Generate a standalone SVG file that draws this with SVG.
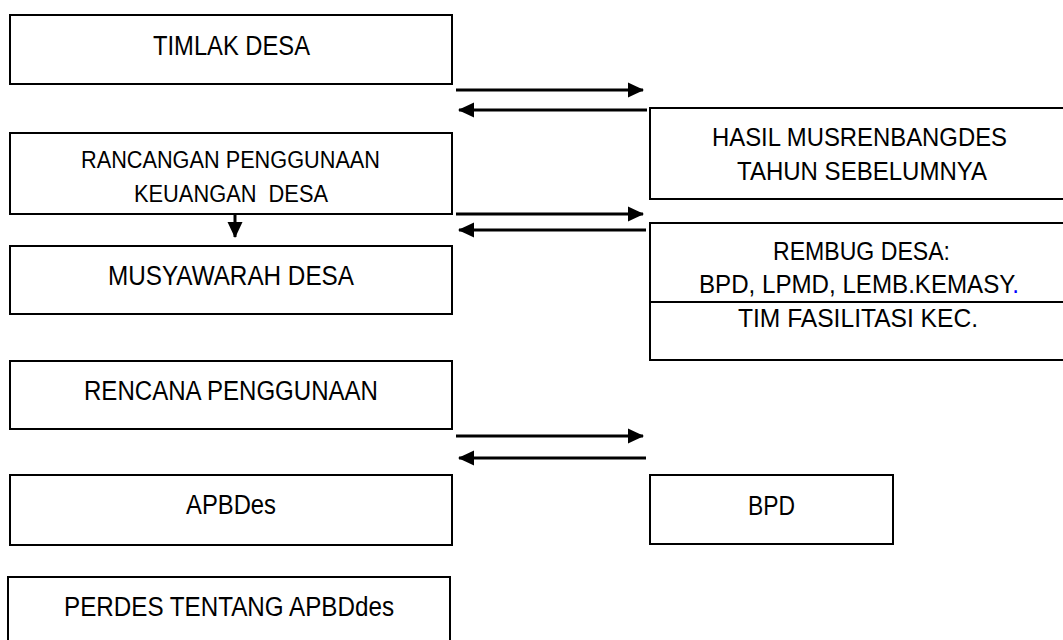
<svg xmlns="http://www.w3.org/2000/svg" width="1063" height="640" viewBox="0 0 1063 640">
<style>
.box{fill:#fff;stroke:#000;stroke-width:2}
.t{font-family:"Liberation Sans",Arial,sans-serif;fill:#000;text-anchor:middle;font-size:27px}
.m{font-size:26px}
.s{font-size:23px}
.c{fill:none;stroke:#000;stroke-width:3}
</style>
<defs>
<marker id="ah" viewBox="0 0 16 16" refX="15" refY="8" markerWidth="16" markerHeight="16" markerUnits="userSpaceOnUse" orient="auto">
<path d="M0,0.5 L16,8 L0,15.5 Z" fill="#000"/>
</marker>
</defs>
<rect width="1063" height="640" fill="#fff"/>
<g id="timlak">
<rect class="box" x="10" y="15" width="442" height="69"/>
<text class="t" x="231.5" y="55" textLength="157" lengthAdjust="spacingAndGlyphs">TIMLAK DESA</text>
</g>
<g id="rancangan">
<rect class="box" x="10" y="133" width="442" height="81"/>
<text class="t s" x="230.5" y="168" textLength="299" lengthAdjust="spacingAndGlyphs">RANCANGAN PENGGUNAAN</text>
<text class="t s" x="231" y="202" textLength="194" lengthAdjust="spacingAndGlyphs" xml:space="preserve">KEUANGAN  DESA</text>
</g>
<g id="musyawarah">
<rect class="box" x="10" y="246" width="442" height="68"/>
<text class="t" x="231" y="285" textLength="246" lengthAdjust="spacingAndGlyphs">MUSYAWARAH DESA</text>
</g>
<g id="rencana">
<rect class="box" x="10" y="361" width="442" height="68"/>
<text class="t" x="231" y="400" textLength="294" lengthAdjust="spacingAndGlyphs">RENCANA PENGGUNAAN</text>
</g>
<g id="apbdes">
<rect class="box" x="10" y="475" width="442" height="70"/>
<text class="t" x="231" y="514" textLength="90" lengthAdjust="spacingAndGlyphs">APBDes</text>
</g>
<g id="perdes">
<rect class="box" x="8" y="577" width="442" height="80"/>
<text class="t" x="229" y="616" textLength="330" lengthAdjust="spacingAndGlyphs">PERDES TENTANG APBDdes</text>
</g>
<g id="hasil">
<rect class="box" x="650" y="108" width="430" height="91"/>
<text class="t m" x="859.5" y="146" textLength="295" lengthAdjust="spacingAndGlyphs">HASIL MUSRENBANGDES</text>
<text class="t m" x="862" y="180" textLength="250" lengthAdjust="spacingAndGlyphs">TAHUN SEBELUMNYA</text>
</g>
<g id="rembug">
<rect class="box" x="650" y="223" width="430" height="137"/>
<line x1="650" y1="302" x2="1080" y2="302" stroke="#000" stroke-width="2"/>
<text class="t m" x="861.5" y="260" textLength="177" lengthAdjust="spacingAndGlyphs">REMBUG DESA:</text>
<text class="t m" x="859" y="293" textLength="320" lengthAdjust="spacingAndGlyphs">BPD, LPMD, LEMB.KEMASY<tspan fill="#0000ff">.</tspan></text>
<text class="t m" x="858" y="327" textLength="240" lengthAdjust="spacingAndGlyphs">TIM FASILITASI KEC.</text>
</g>
<g id="bpd">
<rect class="box" x="650" y="475" width="243" height="69"/>
<text class="t" x="771.5" y="515" textLength="47" lengthAdjust="spacingAndGlyphs">BPD</text>
</g>
<g id="connectors">
<line class="c" x1="456" y1="90" x2="643" y2="90" marker-end="url(#ah)"/>
<line class="c" x1="647" y1="110" x2="459" y2="110" marker-end="url(#ah)"/>
<line class="c" x1="456" y1="214" x2="643" y2="214" marker-end="url(#ah)"/>
<line class="c" x1="646" y1="230" x2="459" y2="230" marker-end="url(#ah)"/>
<line class="c" x1="456" y1="436" x2="643" y2="436" marker-end="url(#ah)"/>
<line class="c" x1="646" y1="458" x2="459" y2="458" marker-end="url(#ah)"/>
<line class="c" x1="235" y1="214" x2="235" y2="237" marker-end="url(#ah)"/>
</g>
</svg>
